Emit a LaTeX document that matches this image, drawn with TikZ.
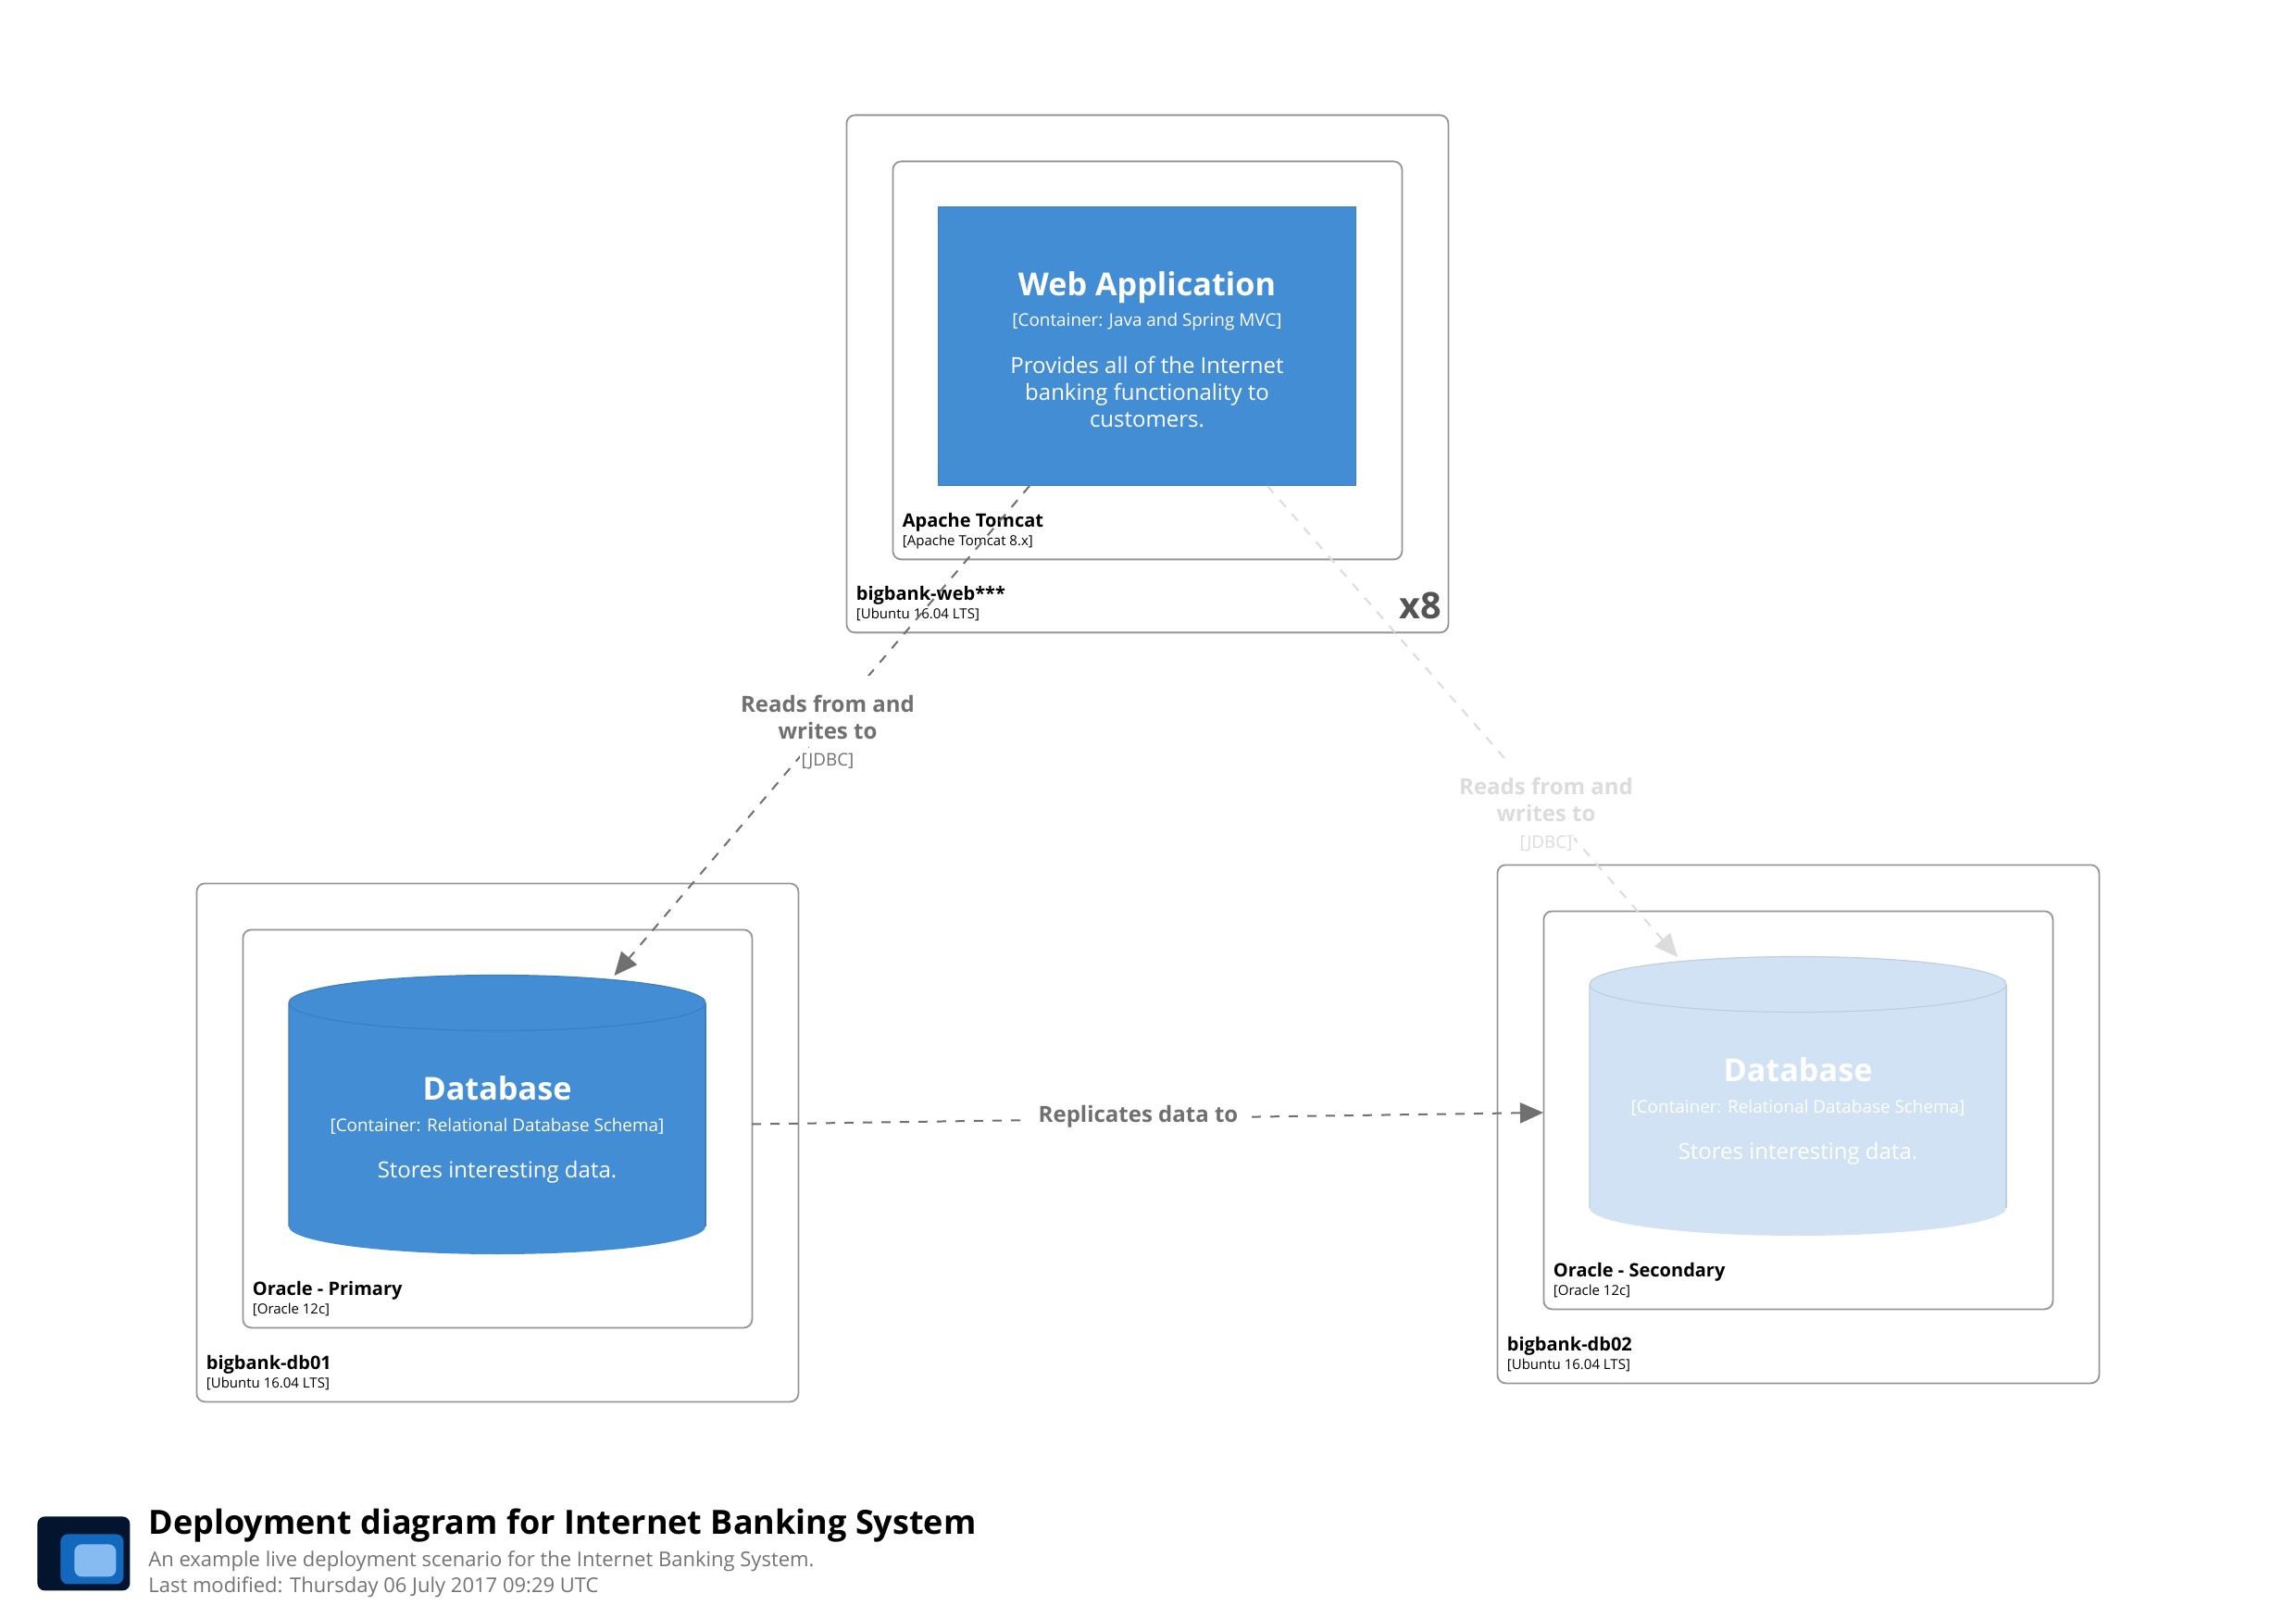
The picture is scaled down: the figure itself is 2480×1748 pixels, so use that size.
\documentclass[tikz,border=0pt]{standalone}
\usepackage{fontspec}
\setmainfont{Open Sans}
\usetikzlibrary{arrows.meta}
\definecolor{boxgray}{HTML}{969696}
\definecolor{blueC}{HTML}{438DD5}
\definecolor{blueEdge}{HTML}{3C7FC0}
\definecolor{paleC}{HTML}{D0E2F4}
\definecolor{paleEdge}{HTML}{BDD0E3}
\definecolor{relgray}{HTML}{707070}
\definecolor{relpale}{HTML}{DCDCDC}
\definecolor{iconBackC}{HTML}{03142E}
\definecolor{iconMidC}{HTML}{1168BD}
\definecolor{iconFrontC}{HTML}{85BBF0}
\tikzset{
	hostbox/.style={draw=boxgray, line width=.9pt, rounded corners=4.5pt, fill=white, anchor=north west, inner sep=0pt},
	hosttitle/.style={anchor=base west, inner sep=0pt, font=\bfseries\fontsize{10}{12}\selectfont},
	hosttech/.style={anchor=base west, inner sep=0pt, font=\fontsize{7.5}{10}\selectfont},
	elemtitle/.style={anchor=base, inner sep=0pt, text=white, font=\bfseries\fontsize{17.1}{20}\selectfont},
	elemtech/.style={anchor=base, inner sep=0pt, text=white, font=\fontsize{9.45}{12}\selectfont},
	elemdesc/.style={anchor=base, inner sep=0pt, text=white, font=\fontsize{12}{14.5}\selectfont},
	relline/.style={draw=#1, line width=1pt, dash pattern=on 5pt off 5pt, -{Triangle[length=12.5pt,width=11pt]}},
	rellabel/.style={anchor=base, fill=white, inner ysep=0pt, inner xsep=1pt, font=\bfseries\fontsize{12}{14.5}\selectfont},
	reltech/.style={anchor=base, fill=white, inner ysep=0pt, inner xsep=1pt, font=\fontsize{9.4}{12}\selectfont},
	iconbox/.style={anchor=north west, inner sep=0pt, rounded corners=4pt},
	captionline/.style={anchor=base west, inner sep=0pt, text=black!55, font=\fontsize{11}{14}\selectfont},
}
\newcommand{\DeployBox}[7]{
	\node[hostbox, minimum width=\fpeval{.5*#4}pt, minimum height=\fpeval{.5*#5}pt] (#1) at (#2,#3) {};
	\node[hosttitle] (#1Title) at ([shift={(11,-35.5)}]#1.south west) {#6};
	\node[hosttech] (#1Tech) at ([shift={(11,-15.5)}]#1.south west) {#7};
}
\newcommand{\DatabaseBox}[3]{
	\fill[#2] (312,1083.5) -- (312,1325) arc[start angle=180, end angle=360, x radius=112.5pt, y radius=15pt] -- (762,1083.5) arc[start angle=0, end angle=180, x radius=112.5pt, y radius=15pt] -- cycle;
	\draw[#3, line width=.6pt] (312,1325) -- (312,1083.5) arc[start angle=180, end angle=-180, x radius=112.5pt, y radius=15pt];
	\draw[#3, line width=.6pt] (762,1083.5) -- (762,1325);
	\node[elemtitle] (#1Title) at (537,1188) {Database};
	\node[elemtech] (#1Tech) at (537,1222.5) {[Container: Relational Database Schema]};
	\node[elemdesc] (#1Desc) at (537,1272.5) {Stores interesting data.};
}
\begin{document}
\begin{tikzpicture}[x=.5pt,y=-.5pt]
	\useasboundingbox (0,0) rectangle (2480,1748);
	\DeployBox{webHost}{913.5}{123.5}{650}{559}{bigbank-web***}{[Ubuntu 16.04 LTS]}
	\DeployBox{tomcat}{963.5}{173.5}{550}{430}{Apache Tomcat}{[Apache Tomcat 8.x]}
	\node[anchor=north west, fill=blueC, draw=blueEdge, line width=.5pt, inner sep=0pt, minimum width=225.5pt, minimum height=150.5pt] (webApp) at (1013,223) {};
	\node[elemtitle] (webAppTitle) at (1239,320) {Web Application};
	\node[elemtech] (webAppTech) at (1239,353) {[Container: Java and Spring MVC]};
	\node[elemdesc] (webAppDescA) at (1239,403.5) {Provides all of the Internet};
	\node[elemdesc] (webAppDescB) at (1239,432.5) {banking functionality to};
	\node[elemdesc] (webAppDescC) at (1239,461.5) {customers.};
	\node[anchor=base east, inner sep=0pt, text=black!67, font=\bfseries\fontsize{19.8}{22}\selectfont] (webCount) at (1557.5,669) {x8};
	\DeployBox{dbHostA}{211.5}{953.5}{650}{560}{bigbank-db01}{[Ubuntu 16.04 LTS]}
	\DeployBox{oracleA}{261.5}{1003.5}{550}{430}{Oracle - Primary}{[Oracle 12c]}
	\DatabaseBox{dbA}{blueC}{blueEdge}
	\begin{scope}[shift={(1405,-20)}]
		\DeployBox{dbHostB}{211.5}{953.5}{650}{560}{bigbank-db02}{[Ubuntu 16.04 LTS]}
		\DeployBox{oracleB}{261.5}{1003.5}{550}{430}{Oracle - Secondary}{[Oracle 12c]}
		\DatabaseBox{dbB}{paleC}{paleEdge}
	\end{scope}
	\coordinate (readsAStart) at (1112,525);
	\coordinate (readsAEnd) at (663.5,1054);
	\coordinate (readsBStart) at (1369,525);
	\coordinate (readsBEnd) at (1812,1034);
	\coordinate (replStart) at (812,1214.5);
	\coordinate (replEnd) at (1667,1202);
	\draw[relline=relgray] (readsAStart) -- (readsAEnd);
	\draw[relline=relpale] (readsBStart) -- (readsBEnd);
	\draw[relline=relgray] (replStart) -- (replEnd);
	\node[rellabel, text=relgray, text height=20pt, text depth=4pt] (readsALabelA) at (894,770) {Reads from and};
	\node[rellabel, text=relgray, text depth=4pt] (readsALabelB) at (894,799) {writes to};
	\node[reltech, text=relgray] (readsATech) at (894,828) {[JDBC]};
	\node[rellabel, text=relpale, text height=20pt, text depth=4pt] (readsBLabelA) at (1670,859) {Reads from and};
	\node[rellabel, text=relpale, text depth=4pt] (readsBLabelB) at (1670,888) {writes to};
	\node[reltech, text=relpale] (readsBTech) at (1670,917) {[JDBC]};
	\node[rellabel, text=relgray, inner xsep=7.5pt, text depth=4pt] (replLabel) at (1229.5,1212.5) {Replicates data to};
	\node[iconbox, fill=iconBackC, minimum width=50pt, minimum height=40pt] (iconBack) at (40,1638) {};
	\node[iconbox, fill=iconMidC, minimum width=34pt, minimum height=27pt] (iconMid) at (65,1657) {};
	\node[iconbox, fill=iconFrontC, minimum width=22.5pt, minimum height=17.5pt] (iconFront) at (80,1668) {};
	\node[anchor=base west, inner sep=0pt, font=\bfseries\fontsize{18}{22}\selectfont] (diagramTitle) at (160,1657.5) {Deployment diagram for Internet Banking System};
	\node[captionline] (diagramDesc) at (160,1692) {An example live deployment scenario for the Internet Banking System.};
	\node[captionline] (diagramDate) at (160,1720.5) {Last modified: Thursday 06 July 2017 09:29 UTC};
\end{tikzpicture}
\end{document}
